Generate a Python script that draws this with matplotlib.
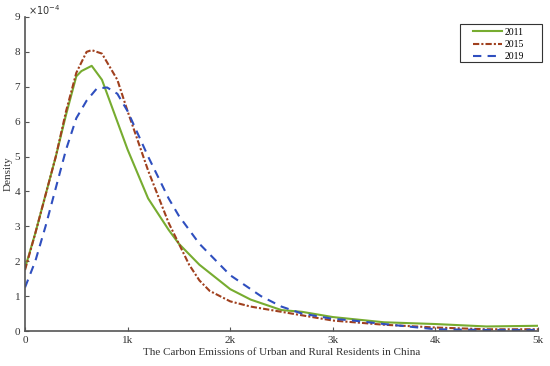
import matplotlib.pyplot as plt
from matplotlib.patches import Rectangle

plt.rcParams["font.family"] = ["Liberation Serif", "DejaVu Serif"]

# density values in units of 1e-4
x_2011 = [0, 100, 200, 300, 400, 500, 550, 650, 750, 850, 1000, 1200, 1400, 1500,
          1700, 2000, 2200, 2500, 2700, 2900, 3000, 3500, 4000, 4500, 5000]
y_2011 = [1.8, 2.8, 3.9, 5.0, 6.2, 7.3, 7.45, 7.6, 7.2, 6.4, 5.2, 3.8, 2.9, 2.5,
          1.9, 1.2, 0.9, 0.6, 0.55, 0.45, 0.4, 0.25, 0.2, 0.13, 0.15]

x_2015 = [0, 100, 200, 300, 400, 500, 600, 650, 750, 900, 1000, 1200, 1400, 1500,
          1600, 1700, 1800, 2000, 2200, 2500, 3000, 3500, 4000, 4500, 5000]
y_2015 = [1.75, 2.8, 3.9, 5.0, 6.3, 7.4, 8.0, 8.05, 7.95, 7.2, 6.3, 4.6, 3.1, 2.5,
          1.9, 1.45, 1.15, 0.85, 0.7, 0.55, 0.3, 0.18, 0.1, 0.05, 0.05]

x_2019 = [0, 100, 200, 300, 400, 500, 600, 700, 800, 900, 1000, 1200, 1400, 1500,
          1700, 2000, 2300, 2500, 2700, 3000, 3200, 3500, 4000, 4500, 5000]
y_2019 = [1.25, 2.0, 3.0, 4.1, 5.2, 6.1, 6.6, 6.95, 6.98, 6.8, 6.3, 5.0, 3.8, 3.3,
          2.5, 1.6, 1.0, 0.7, 0.5, 0.35, 0.3, 0.2, 0.05, 0.03, 0.03]

x_ticks = [0, 1000, 2000, 3000, 4000, 5000]
x_tick_labels = ["0", "1k", "2k", "3k", "4k", "5k"]
y_ticks = list(range(10))

fig = plt.figure(figsize=(5.5, 3.66), dpi=100)
ax = fig.add_axes([0.0455, 0.0956, 0.9325, 0.858])

ax.plot(x_2011, y_2011, color="#77ac30", linewidth=1.5, label="2011")
ax.plot(x_2015, y_2015, color="#a0401e", linewidth=1.5, linestyle="-.",
        dashes=(3, 1, 1, 1), label="2015")
ax.plot(x_2019, y_2019, color="#2f4fbf", linewidth=1.5, linestyle="--",
        dashes=(4, 3), label="2019")

ax.set_xlim(0, 5000)
ax.set_ylim(0, 9)
ax.set_xticks(x_ticks)
ax.set_xticklabels(x_tick_labels)
ax.set_yticks(y_ticks)
ax.tick_params(direction="in", labelsize=8, length=3, color="#555555",
               labelcolor="#333333")
for side in ["top", "right"]:
    ax.spines[side].set_visible(False)
for side in ["left", "bottom"]:
    ax.spines[side].set_color("#555555")
    ax.spines[side].set_linewidth(1.2)

ax.text(0.006, 1.0, r"$\times10^{-4}$", transform=ax.transAxes, fontsize=7,
        color="#333333", va="bottom", ha="left")
ax.set_xlabel("The Carbon Emissions of Urban and Rural Residents in China",
              fontsize=8, color="#333333", labelpad=2)
ax.set_ylabel("Density", fontsize=8, color="#333333")
ax.yaxis.set_label_coords(-0.024, 0.5)

# legend box drawn like MATLAB's (wide padding around entries)
ax.add_patch(Rectangle((0.848, 0.857), 0.16, 0.121, transform=ax.transAxes,
                       facecolor="white", edgecolor="#333333", linewidth=0.8,
                       clip_on=False, zorder=4))
leg = ax.legend(loc="upper left", bbox_to_anchor=(0.873, 0.966), fontsize=7,
                frameon=False, handlelength=3, handletextpad=0.3,
                borderpad=0, borderaxespad=0, labelspacing=0.35)
leg.set_zorder(5)

plt.savefig("out.png", dpi=100)
